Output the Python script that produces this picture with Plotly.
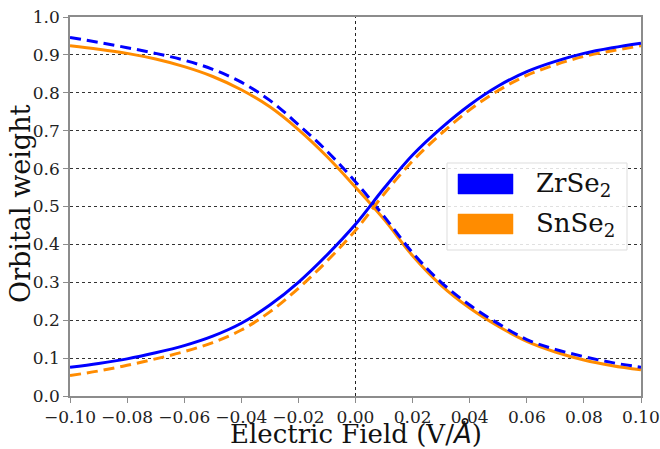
import plotly.graph_objects as go

# Electric field values (V/Å)
field = [-0.10, -0.09, -0.08, -0.07, -0.06, -0.05, -0.04, -0.03, -0.02, -0.01,
         0.00, 0.01, 0.02, 0.03, 0.04, 0.05, 0.06, 0.07, 0.08, 0.09, 0.10]

# Orbital weights, first band (solid lines)
zrse2_band1 = [0.076, 0.086, 0.098, 0.114, 0.133, 0.158, 0.192, 0.240, 0.300, 0.372,
               0.453, 0.548, 0.636, 0.707, 0.768, 0.818, 0.856, 0.883, 0.904, 0.919, 0.931]
snse2_band1 = [0.924, 0.915, 0.904, 0.889, 0.869, 0.843, 0.808, 0.763, 0.703, 0.632,
               0.551, 0.466, 0.370, 0.292, 0.232, 0.184, 0.144, 0.116, 0.095, 0.080, 0.069]

# Orbital weights, second band (dashed lines)
zrse2_band2 = [0.946, 0.933, 0.919, 0.904, 0.886, 0.862, 0.828, 0.780, 0.716, 0.646,
               0.565, 0.474, 0.378, 0.300, 0.240, 0.191, 0.149, 0.123, 0.104, 0.088, 0.076]
snse2_band2 = [0.054, 0.066, 0.081, 0.098, 0.117, 0.141, 0.174, 0.222, 0.284, 0.356,
               0.437, 0.533, 0.620, 0.692, 0.755, 0.806, 0.846, 0.874, 0.896, 0.911, 0.924]

materials = ["ZrSe<sub>2</sub>", "SnSe<sub>2</sub>"]

x_ticks = [-0.10, -0.08, -0.06, -0.04, -0.02, 0.00, 0.02, 0.04, 0.06, 0.08, 0.10]
x_ticktext = ["\u22120.10", "\u22120.08", "\u22120.06", "\u22120.04", "\u22120.02",
              "0.00", "0.02", "0.04", "0.06", "0.08", "0.10"]
y_ticks = [0.0, 0.1, 0.2, 0.3, 0.4, 0.5, 0.6, 0.7, 0.8, 0.9, 1.0]
y_ticktext = ["0.0", "0.1", "0.2", "0.3", "0.4", "0.5", "0.6", "0.7", "0.8", "0.9", "1.0"]

BLUE = "#0000FF"
ORANGE = "#FF8C00"
FONT = "DejaVu Serif"
DASH = "11px,6px"

fig = go.Figure()

series = [
    (snse2_band1, ORANGE, "solid"),
    (zrse2_band2, BLUE, DASH),
    (snse2_band2, ORANGE, DASH),
    (zrse2_band1, BLUE, "solid"),
]
for ys, color, dash in series:
    fig.add_trace(go.Scatter(
        x=field, y=ys, mode="lines",
        line=dict(color=color, width=3, dash=dash, shape="spline", smoothing=1.0),
        showlegend=False, hoverinfo="skip",
    ))

# dotted vertical reference at zero field
fig.add_vline(x=0, line=dict(color="#222222", width=1, dash="dot"), layer="below")

axis_common = dict(
    showline=True, linecolor="#8c8c8c", linewidth=1.5, mirror=True,
    ticks="outside", ticklen=5, tickwidth=1.2, tickcolor="#8c8c8c",
    tickfont=dict(family=FONT, size=17, color="#222222"), tickangle=0,
    zeroline=False, automargin=False,
)

fig.update_xaxes(
    range=[-0.10, 0.10], tickvals=x_ticks, ticktext=x_ticktext,
    showgrid=False, **axis_common,
)
fig.update_yaxes(
    range=[0.0, 1.0], tickvals=y_ticks, ticktext=y_ticktext,
    showgrid=True, gridcolor="#333333", gridwidth=1, griddash="dot",
    **axis_common,
)

# plot-area pixel frame, used to place the titles and legend box
L, R, T, B = 70, 641, 17, 396
def px(xp):
    return (xp - L) / (R - L)
def py(yp):
    return (B - yp) / (B - T)

fig.add_annotation(xref="paper", yref="paper", x=px(356), y=py(433),
                   text="Electric Field (V/<span style='font-family:DejaVu Sans'><i>Å</i></span>)",
                   showarrow=False, xanchor="center", yanchor="middle",
                   font=dict(family=FONT, size=26, color="#111111"))
fig.add_annotation(xref="paper", yref="paper", x=px(20), y=py(204),
                   text="Orbital weight", textangle=-90,
                   showarrow=False, xanchor="center", yanchor="middle",
                   font=dict(family=FONT, size=27, color="#111111"))

# Legend drawn as a box with colour swatches
fig.add_shape(type="rect", xref="paper", yref="paper",
              x0=px(447), x1=px(627), y0=py(250), y1=py(163),
              line=dict(color="#dddddd", width=1), fillcolor="rgba(255,255,255,0.85)",
              layer="above")
swatches = [(174, 194, BLUE), (214, 234, ORANGE)]
for (top, bot, color), name in zip(swatches, materials):
    fig.add_shape(type="rect", xref="paper", yref="paper",
                  x0=px(458), x1=px(513), y0=py(bot), y1=py(top),
                  line=dict(color=color, width=0.5), fillcolor=color, layer="above")
    fig.add_annotation(xref="paper", yref="paper", x=px(534), y=py((top + bot) / 2),
                       text=name, showarrow=False, xanchor="left", yanchor="middle",
                       font=dict(family=FONT, size=26, color="#111111"))

fig.update_layout(
    width=660, height=449,
    margin=dict(l=L, r=660 - R, t=T, b=449 - B),
    paper_bgcolor="white", plot_bgcolor="white",
    font=dict(family=FONT),
)

fig.write_html("out.html")
